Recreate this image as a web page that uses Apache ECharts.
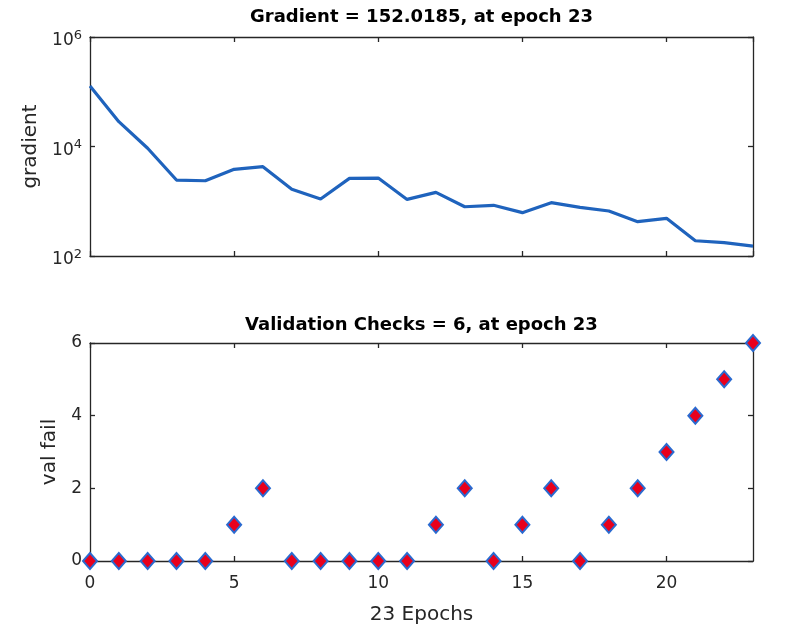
<!DOCTYPE html>
<html>
<head>
<meta charset="utf-8">
<script src="https://cdn.jsdelivr.net/npm/echarts@6/dist/echarts.min.js"></script>
<style>
html,body{margin:0;padding:0;background:#fff;}
#chart{width:798px;height:632px;}
</style>
</head>
<body>
<div id="chart"></div>
<script>
// ---- data ----
var epochs = [0,1,2,3,4,5,6,7,8,9,10,11,12,13,14,15,16,17,18,19,20,21,22,23];
var gradient = [127000, 28400, 9300, 2440, 2370, 3830, 4280, 1650, 1100, 2620, 2650, 1080, 1450, 794, 843, 619, 942, 774, 663, 424, 488, 190, 175, 152.0185];
var valFail = [0,0,0,0,0,1,2,0,0,0,0,0,1,2,0,1,2,0,1,2,3,4,5,6];
var titles = ['Gradient = 152.0185, at epoch 23', 'Validation Checks = 6, at epoch 23'];
var yNames = ['gradient', 'val fail'];
var xName = '23 Epochs';

var FONT = 'DejaVu Sans';
var AX = '#262626';
var chart = echarts.init(document.getElementById('chart'), null, {renderer: 'canvas'});

function lineAxis(extra) {
  var base = {
    axisLine: {show: true, onZero: false, lineStyle: {color: AX, width: 1.3}},
    axisTick: {show: true, inside: true, length: 5, lineStyle: {color: AX, width: 1.3}},
    splitLine: {show: false},
    axisLabel: {show: false}
  };
  return Object.assign(base, extra);
}

var tickLabel = {color: AX, fontFamily: FONT, fontSize: 17};

var option = {
  animation: false,
  backgroundColor: '#ffffff',
  title: [
    {text: titles[0], left: 421.5, top: 8, textAlign: 'center', padding: 0,
     textStyle: {fontFamily: FONT, fontSize: 18, fontWeight: 'bold', color: '#000'}},
    {text: titles[1], left: 421.5, top: 316, textAlign: 'center', padding: 0,
     textStyle: {fontFamily: FONT, fontSize: 18, fontWeight: 'bold', color: '#000'}}
  ],
  grid: [
    {left: 90, right: 45, top: 37, height: 219, containLabel: false},
    {left: 90, right: 45, top: 343, height: 218, containLabel: false}
  ],
  xAxis: [
    lineAxis({type: 'value', gridIndex: 0, position: 'bottom', min: 0, max: 23, interval: 5}),
    lineAxis({type: 'value', gridIndex: 0, position: 'top', min: 0, max: 23, interval: 5}),
    lineAxis({type: 'value', gridIndex: 1, position: 'bottom', min: 0, max: 23, interval: 5,
      axisLabel: Object.assign({show: true, margin: 14, showMaxLabel: false}, tickLabel),
      name: xName, nameLocation: 'middle', nameGap: 44,
      nameTextStyle: {fontFamily: FONT, fontSize: 20, color: AX}}),
    lineAxis({type: 'value', gridIndex: 1, position: 'top', min: 0, max: 23, interval: 5})
  ],
  yAxis: [
    lineAxis({type: 'log', logBase: 10, gridIndex: 0, position: 'left', min: 100, max: 1000000, interval: 2,
      axisLabel: {show: true, margin: 8, color: AX, fontFamily: FONT, padding: [8, 0, 0, 0],
        formatter: function (v) { return '{b|10}{s|' + Math.round(Math.log10(v)) + '}'; },
        rich: {
          b: {fontFamily: FONT, fontSize: 17, color: AX, lineHeight: 20},
          s: {fontFamily: FONT, fontSize: 13, color: AX, lineHeight: 14, padding: [0, 0, 11, 0]}
        }},
      minorTick: {show: false},
      name: yNames[0], nameLocation: 'middle', nameGap: 49,
      nameTextStyle: {fontFamily: FONT, fontSize: 20, color: AX}}),
    lineAxis({type: 'log', logBase: 10, gridIndex: 0, position: 'right', min: 100, max: 1000000, interval: 2}),
    lineAxis({type: 'value', gridIndex: 1, position: 'left', min: 0, max: 6, interval: 2,
      axisLabel: Object.assign({show: true, margin: 8}, tickLabel),
      name: yNames[1], nameLocation: 'middle', nameGap: 21,
      nameTextStyle: {fontFamily: FONT, fontSize: 20, color: AX}}),
    lineAxis({type: 'value', gridIndex: 1, position: 'right', min: 0, max: 6, interval: 2})
  ],
  series: [
    {
      type: 'line', xAxisIndex: 0, yAxisIndex: 0,
      data: epochs.map(function (e, i) { return [e, gradient[i]]; }),
      showSymbol: false, symbol: 'none',
      lineStyle: {color: '#1f63bd', width: 3.2},
      z: 3
    },
    {
      type: 'scatter', xAxisIndex: 2, yAxisIndex: 2,
      data: epochs.map(function (e, i) { return [e, valFail[i]]; }),
      symbol: 'diamond', symbolSize: [14, 16],
      clip: false,
      itemStyle: {color: '#e8001c', borderColor: '#2a6ad0', borderWidth: 2, opacity: 1},
      z: 5
    }
  ]
};
chart.setOption(option);
</script>
</body>
</html>
